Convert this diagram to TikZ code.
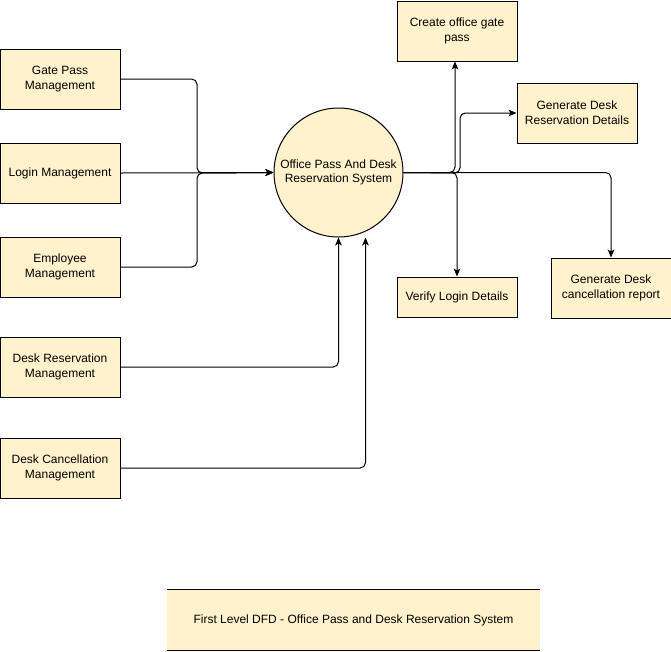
\documentclass[tikz,border=0pt]{standalone}
\usepackage{fontspec}
\setmainfont{Liberation Sans}
\usetikzlibrary{arrows.meta}
\definecolor{boxfill}{HTML}{FFF2CC}
\tikzset{
  px/.style={x=0.75pt,y=-0.75pt},
  box/.style={draw=black,fill=boxfill,line width=0.75pt,minimum width=90pt,minimum height=45pt,inner sep=0pt,align=center,font=\fontsize{9pt}{11pt}\selectfont},
  proc/.style={circle,draw=black,fill=boxfill,line width=0.75pt,minimum size=96.75pt,inner sep=0pt,align=center,font=\fontsize{9pt}{11pt}\selectfont},
  flow/.style={draw=black,line width=0.75pt,rounded corners=4pt,-{Stealth[length=6pt,width=5pt,inset=1.5pt]}},
}
\begin{document}
\begin{tikzpicture}[px]
\useasboundingbox (0,0) rectangle (671,651);
% sources
\node[box] (gp) at (60,79) {Gate Pass\\Management};
\node[box] (lm) at (60,173) {Login Management};
\node[box] (em) at (60,267) {Employee\\Management};
\node[box] (drm) at (60,367) {Desk Reservation\\Management};
\node[box] (dcm) at (60,468) {Desk Cancellation\\Management};
% process
\node[proc] (sys) at (338.5,172.5) {Office Pass And Desk\\Reservation System};
% outputs
\node[box] (cgp) at (457,31) {Create office gate\\pass};
\node[box] (gdr) at (577,113) {Generate Desk\\Reservation Details};
\node[box,minimum height=30pt] (vld) at (457,297) {Verify Login Details};
\node[box] (gcr) at (611,288) {Generate Desk\\cancellation report};
% title
\node[fill=boxfill,minimum width=279.75pt,minimum height=45pt,inner sep=0pt,font=\fontsize{9pt}{11pt}\selectfont] (title) at (353.5,620) {First Level DFD - Office Pass and Desk Reservation System};
\draw[line width=0.75pt] (title.north west) -- (title.north east);
\draw[line width=0.75pt] (title.south west) -- (title.south east);
% junction points
\coordinate (j) at (197,173);
\coordinate (k) at (460,173);
% inputs
\draw[flow] (gp.east) -| (j) -- (sys.west);
\draw[flow] (lm.east) -- (sys.west);
\draw[flow] (em.east) -| (j) -- (sys.west);
\draw[flow] (drm.east) -| (sys.south);
\draw[flow] (dcm.east) -| ([xshift=20.25pt]sys.south);
% outputs
\draw[flow] (sys.east) -| ([xshift=-1.5pt]cgp.south);
\draw[flow] (sys.east) -- (k) |- (gdr.west);
\draw[flow] (sys.east) -| (vld.north);
\draw[flow] (sys.east) -| (gcr.north);
\end{tikzpicture}
\end{document}
